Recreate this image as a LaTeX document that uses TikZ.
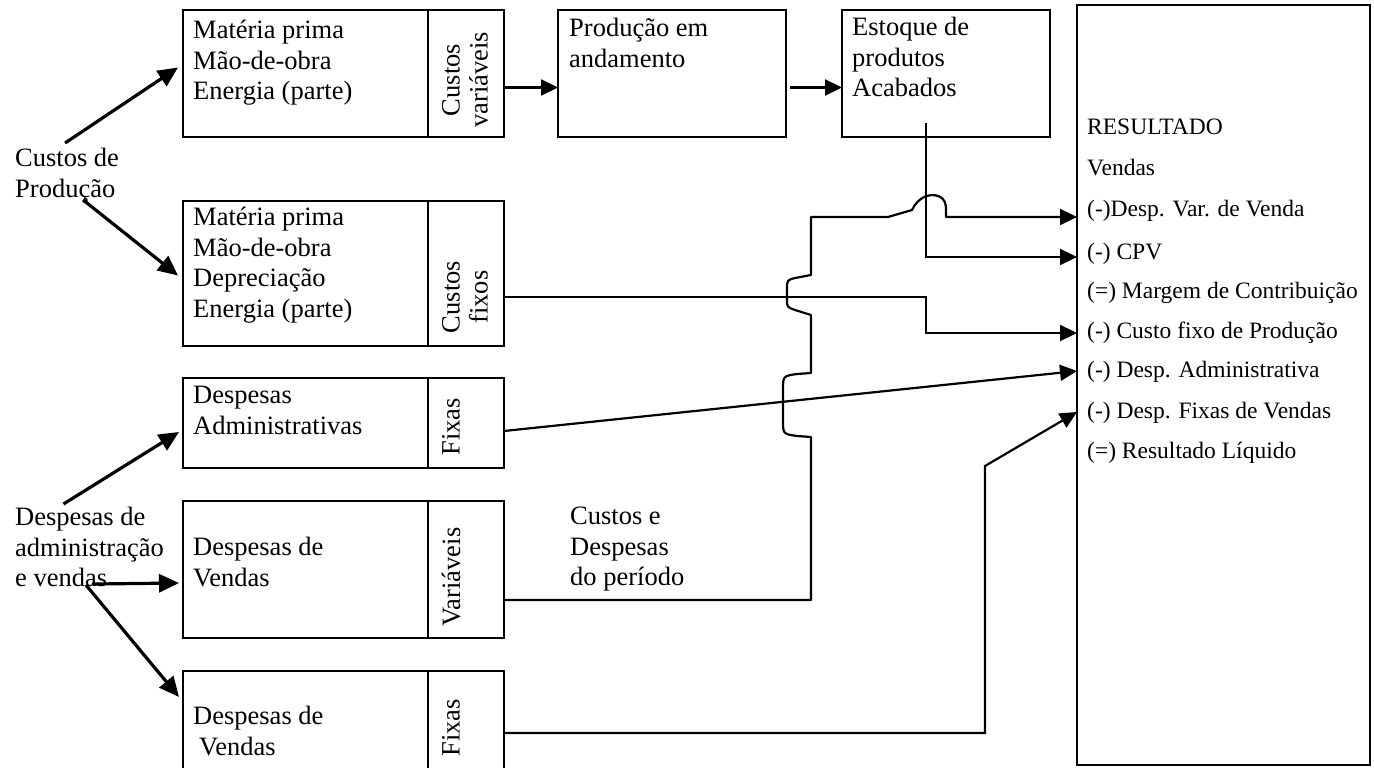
\documentclass[tikz,border=0pt]{standalone}
\usepackage{fontspec}
\setmainfont{Liberation Serif}
\usetikzlibrary{arrows.meta}
\begin{document}
\begin{tikzpicture}[x=1pt,y=-1pt,
  box/.style={draw, line width=1.8pt, inner sep=0pt, outer sep=0pt, anchor=north west},
  txt/.style={font=\fontsize{26.5}{30.5}\selectfont, inner sep=0pt, align=left, anchor=north west},
  rot/.style={font=\fontsize{26.5}{28}\selectfont, inner sep=0pt, align=center, rotate=90},
  rtxt/.style={font=\fontsize{23.5}{28}\selectfont, inner sep=0pt, anchor=west},
  conn/.style={line width=2.2pt, -{Triangle[length=17pt,width=16pt]}},
  diag/.style={line width=3.2pt, -{Triangle[length=20pt,width=18pt]}}]
\fill[white] (0,0) rectangle (1374,768);
\useasboundingbox (0,0) rectangle (1374,768);
\begin{scope}
\clip (0,0) rectangle (1374,768);
% boxes
\node[box, minimum width=245pt, minimum height=127pt] (b1) at (183,10) {};
\node[box, minimum width=76pt, minimum height=127pt] (b1c) at (b1.north east) {};
\node[box, minimum width=228pt, minimum height=127pt] (prod) at (558,10) {};
\node[box, minimum width=208pt, minimum height=127pt] (est) at (842,10) {};
\node[box, minimum width=293pt, minimum height=760pt] (rb) at (1077,5) {};
\node[box, minimum width=245pt, minimum height=145pt] (b2) at (183,201) {};
\node[box, minimum width=76pt, minimum height=145pt] (b2c) at (b2.north east) {};
\node[box, minimum width=245pt, minimum height=90pt] (b3) at (183,378) {};
\node[box, minimum width=76pt, minimum height=90pt] (b3c) at (b3.north east) {};
\node[box, minimum width=245pt, minimum height=137pt] (b4) at (183,501) {};
\node[box, minimum width=76pt, minimum height=137pt] (b4c) at (b4.north east) {};
\node[box, minimum width=245pt, minimum height=110pt] (b5) at (183,671) {};
\node[box, minimum width=76pt, minimum height=110pt] (b5c) at (b5.north east) {};
% texts
\node[txt] (t1) at (193,20) {Matéria prima\\Mão-de-obra\\Energia (parte)};
\node[txt] (tp) at (569,18) {Produção em\\andamento};
\node[txt] (te) at (852,17) {Estoque de\\produtos\\Acabados};
\node[txt] (t2) at (193,207) {Matéria prima\\Mão-de-obra\\Depreciação\\Energia (parte)};
\node[txt] (t3) at (193,386) {Despesas\\Administrativas};
\node[txt] (t4) at (193,537) {Despesas de\\Vendas};
\node[txt] (t5) at (193,706) {Despesas de\\\hspace*{6pt}Vendas};
\node[txt] (lab1) at (15,148) {Custos de\\Produção};
\node[txt] (lab2) at (15,507) {Despesas de\\administração\\e vendas};
\node[txt] (lab3) at (570,507) {Custos e\\Despesas\\do período};
% rotated column texts
\node[rot] (c1) at (465,80) {Custos\\variáveis};
\node[rot] (c2) at (465,297) {Custos\\fixos};
\node[rot] (c3) at (451,427) {Fixas};
\node[rot] (c4) at (451,577) {Variáveis};
\node[rot] (c5) at (451,728) {Fixas};
% result box lines
\node[rtxt] (r0) at (1087,127) {RESULTADO};
\node[rtxt] (r1) at (1087,168) {Vendas};
\node[rtxt] (r2) at (1087,211) {(-)Desp. Var. de Venda};
\node[rtxt] (r3) at (1087,254) {(-) CPV};
\node[rtxt] (r4) at (1087,293) {(=) Margem de Contribuição};
\node[rtxt] (r5) at (1087,333) {(-) Custo fixo de Produção};
\node[rtxt] (r6) at (1087,372) {(-) Desp. Administrativa};
\node[rtxt] (r7) at (1087,413) {(-) Desp. Fixas de Vendas};
\node[rtxt] (r8) at (1087,453) {(=) Resultado Líquido};
% top flow
\draw[conn] ([yshift=-14pt]b1c.east) -- ([yshift=-14pt]prod.west);
\draw[conn] ([shift={(4,14)}]prod.east) -- ([yshift=-14pt]est.west);
% estoque -> CPV
\draw[conn] ([shift={(-20,-14)}]est.south) |- ([yshift=-3pt]rb.west |- r3.west);
% custos fixos -> custo fixo de producao
\draw[conn] ([yshift=-23.5pt]b2c.east) -- ++(422,0) |- (rb.west |- r5.west);
% variaveis -> desp var de venda (with jumps)
\draw[conn, line join=round] ([yshift=-30.5pt]b4c.east) -- (811,600) -- (811,437)
  -- (797,436) .. controls (783,434) .. (783,420) -- (783,390)
  .. controls (783,376) .. (797,374) -- (811,373) -- (811,315)
  -- (795,310) .. controls (787,307) .. (787,300) -- (787,290)
  .. controls (787,280) .. (795,278) -- (811,275) -- (811,217)
  -- (888,217) -- (912,210) .. controls (918,197) and (930,193) .. (938,196)
  .. controls (946,199) and (946,205) .. (946,211) |- ([yshift=-6pt]rb.west |- r2.west);
% administrativas -> desp administrativa
\draw[conn] ([yshift=-8pt]b3c.east) -- ([yshift=1pt]rb.west |- r6.west);
% fixas vendas -> desp fixas de vendas
\draw[conn] ([yshift=-7pt]b5c.east) -- ++(481,0) -- ++(0,-267) -- ([yshift=1pt]rb.west |- r7.west);
% diagonal arrows from labels
\draw[diag] ([shift={(-2,-5)}]lab1.north) -- ([shift={(-5,-6)}]b1.west);
\draw[diag] ([shift={(16,-3)}]lab1.south) -- ([shift={(-5,2)}]b2.west);
\draw[diag] ([shift={(-26,-3)}]lab2.north) -- ([shift={(-4,9)}]b3.west);
\draw[diag] ([shift={(77,-3)}]lab2.south west) -- ([shift={(-4,13.5)}]b4.west);
\draw[diag] ([shift={(71,-2)}]lab2.south west) -- ([shift={(-4,26)}]b5.north west);
\end{scope}
\end{tikzpicture}
\end{document}
